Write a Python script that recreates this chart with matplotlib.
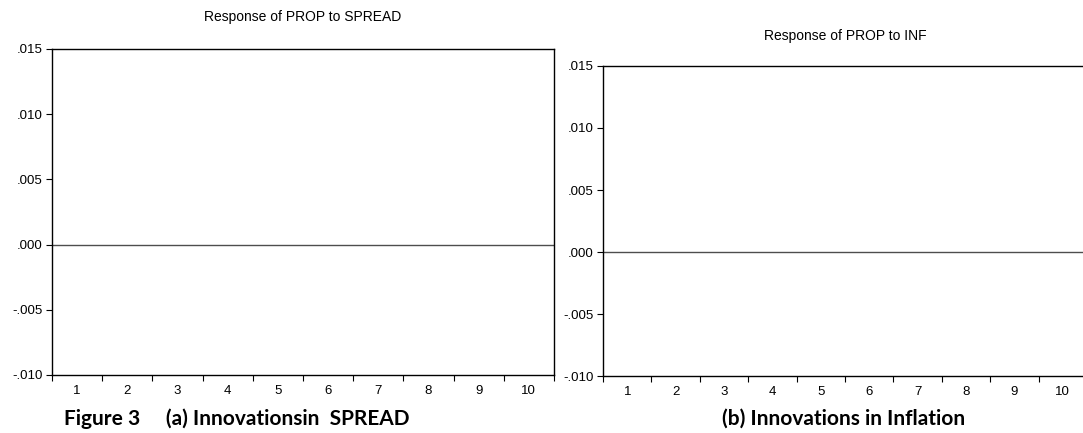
import matplotlib
matplotlib.use("Agg")
import matplotlib.pyplot as plt
from matplotlib.ticker import FixedLocator, FuncFormatter

# impulse-response horizon and axis settings
periods = [1, 2, 3, 4, 5, 6, 7, 8, 9, 10]
y_ticks = [-0.010, -0.005, 0.000, 0.005, 0.010, 0.015]
zero_level = 0.0
titles = ["Response of PROP to SPREAD", "Response of PROP to INF"]
captions = ["Figure 3     (a) Innovationsin  SPREAD", "(b) Innovations in Inflation"]

plt.rcParams['font.family'] = ['Liberation Sans', 'DejaVu Sans']

fig = plt.figure(figsize=(10.83, 4.33), dpi=100)
ax1 = fig.add_axes([0.048, 0.134, 0.4635, 0.7529])
ax2 = fig.add_axes([0.5568, 0.1316, 0.4469, 0.716])


def fmt(v, pos):
    s = "%.3f" % v
    return s.replace("0.", ".")


def style(ax, title, title_pad):
    ax.axhline(zero_level, color='#4d4d4d', lw=1.0)
    ax.set_xlim(periods[0] - 0.5, periods[-1] + 0.5)
    ax.set_ylim(y_ticks[0], y_ticks[-1])
    ax.yaxis.set_major_locator(FixedLocator(y_ticks))
    ax.yaxis.set_major_formatter(FuncFormatter(fmt))
    ax.xaxis.set_major_locator(FixedLocator(periods))
    ax.xaxis.set_minor_locator(FixedLocator([p - 0.5 for p in periods] + [periods[-1] + 0.5]))
    ax.tick_params(axis='x', which='major', length=0, pad=7, labelsize=9.5)
    ax.tick_params(axis='x', which='minor', length=4, width=0.8, direction='out')
    ax.tick_params(axis='y', length=4, width=0.8, direction='out', pad=3, labelsize=9.5)
    for sp in ax.spines.values():
        sp.set_linewidth(1.0)
        sp.set_color('black')
    ax.set_title(title, fontsize=10, pad=title_pad)


style(ax1, titles[0], 20)
style(ax2, titles[1], 19)

fig.text(0.059, 0.032, captions[0], fontsize=15, fontweight='bold', va='center',
         family=['Lato', 'DejaVu Sans'])
fig.text(0.779, 0.032, captions[1], fontsize=15, fontweight='bold', ha='center', va='center',
         family=['Lato', 'DejaVu Sans'])

fig.savefig("out.png", dpi=100)
